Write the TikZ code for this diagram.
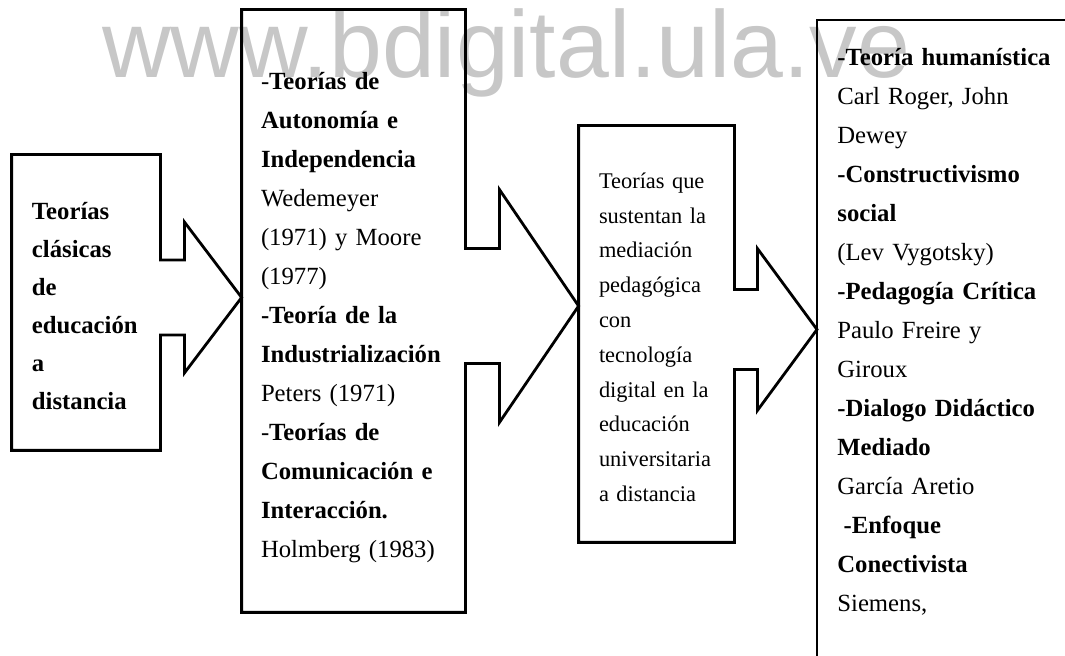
\documentclass[tikz,border=0pt]{standalone}
\usepackage{fontspec}
\setmainfont{Liberation Serif}
\setsansfont{Liberation Sans}
\usetikzlibrary{calc,positioning}
\tikzset{
    %Define style for text boxes
    caja/.style={
           rectangle,
           inner xsep=10pt,
           inner ysep=0pt,
           align=left,
           font=\fontsize{12.35}{19.5}\selectfont},
    cajachica/.style={
           caja,
           font=\fontsize{11.2}{17.4}\selectfont},
    % Define outline style
    borde/.style={
           draw=black,
           line width=1.4pt,
           line join=miter},
    marca/.style={
           text=black!22,
           inner sep=0pt,
           font=\sffamily\fontsize{47.5}{50}\selectfont}
}
\begin{document}
\begin{tikzpicture}[x=0.5pt,y=-0.5pt]
\useasboundingbox (0,0) rectangle (1065,656);
\clip (0,0) rectangle (1065,656);
\node[marca, anchor=base west] (web) at (102,78) {www.bdigital.ula.ve};
% boxes
\node[caja, font=\fontsize{12.35}{19}\selectfont\bfseries, minimum width=74pt, minimum height=147.5pt, text width=54pt] (clasicas) at (86,302.5)
  {\rule{0pt}{12pt}Teorías\\ clásicas\\ de\\ educación\\ a\\ distancia};
\node[caja, inner xsep=9.5pt, minimum width=111.5pt, minimum height=301pt, text width=92.5pt] (teorias) at (353.5,311)
  {\rule{0pt}{15pt}-\textbf{Teorías de}\\ \textbf{Autonomía e}\\ \textbf{Independencia}\\ Wedemeyer\\ (1971) y Moore\\ (1977)\\
   \textbf{-Teoría de la}\\ \textbf{Industrialización}\\ Peters (1971)\\ -\textbf{Teorías de}\\ \textbf{Comunicación e}\\
   \textbf{Interacción.}\\ Holmberg (1983)};
\node[cajachica, minimum width=77.5pt, minimum height=208pt, text width=57.5pt] (mediacion) at (656.5,334)
  {\rule{0pt}{11pt}Teorías que\\ sustentan la\\ mediación\\ pedagógica\\ con\\ tecnología\\ digital en la\\ educación\\ universitaria\\ a distancia};
\node[caja, anchor=north west, inner ysep=14pt, text width=121.5pt] (enfoques) at (817,20)
  {\textbf{-Teoría humanística}\\ Carl Roger, John\\ Dewey\\ \textbf{-Constructivismo}\\ \textbf{social}\\ (Lev Vygotsky)\\
   \textbf{-Pedagogía Crítica}\\ Paulo Freire y\\ Giroux\\ \textbf{-Dialogo Didáctico}\\ \textbf{Mediado}\\ García Aretio\\
   \hspace*{0.25em}\textbf{-Enfoque}\\ \textbf{Conectivista}\\ Siemens,};
% arrow callouts
\coordinate (p1) at ($(clasicas.east)+(0,-5)$);
\coordinate (p2) at ($(teorias.east)+(0,-5)$);
\coordinate (p3) at ($(mediacion.east)+(0,-4.5)$);
\coordinate (fondo) at (817,690);
\draw[borde] ($(p1)+(0,-37.5)$) -- (clasicas.north east) -- (clasicas.north west) -- (clasicas.south west) -- (clasicas.south east)
  -- ($(p1)+(0,37.5)$) -- ($(p1)+(24,37.5)$) -- ($(p1)+(24,75.5)$) -- (teorias.west |- p1)
  -- ($(p1)+(24,-75.5)$) -- ($(p1)+(24,-37.5)$) -- cycle;
\draw[borde] ($(p2)+(0,-57.5)$) -- (teorias.north east) -- (teorias.north west) -- (teorias.south west) -- (teorias.south east)
  -- ($(p2)+(0,57.5)$) -- ($(p2)+(34,57.5)$) -- ($(p2)+(34,116.5)$) -- (mediacion.west |- p2)
  -- ($(p2)+(34,-116.5)$) -- ($(p2)+(34,-57.5)$) -- cycle;
\draw[borde] ($(p3)+(0,-40)$) -- (mediacion.north east) -- (mediacion.north west) -- (mediacion.south west) -- (mediacion.south east)
  -- ($(p3)+(0,40)$) -- ($(p3)+(23,40)$) -- ($(p3)+(23,81)$) -- (enfoques.west |- p3)
  -- ($(p3)+(23,-81)$) -- ($(p3)+(23,-40)$) -- cycle;
\draw[borde] (enfoques.north east) -- (enfoques.north west) -- (enfoques.west |- fondo);
\end{tikzpicture}
\end{document}
